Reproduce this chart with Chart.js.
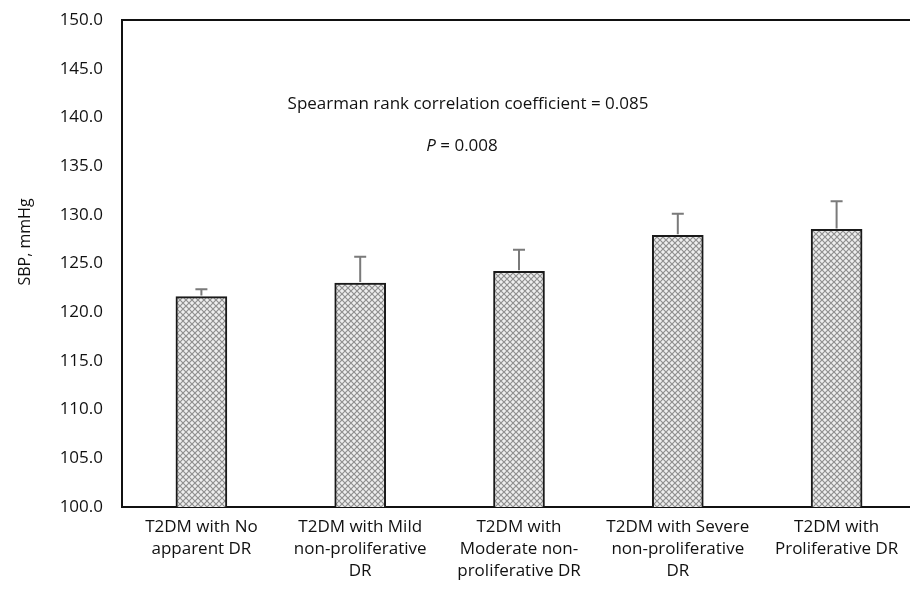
<!DOCTYPE html>
<html>
<head>
<meta charset="utf-8">
<script src="https://cdn.jsdelivr.net/npm/chart.js@4/dist/chart.umd.min.js"></script>
<style>
  html, body { margin: 0; padding: 0; background: #fff; overflow: hidden; }
  #wrap { width: 916px; height: 591px; }
</style>
</head>
<body>
<div id="wrap"><canvas id="sbp_chart" width="916" height="591"></canvas></div>
<script>
const groups = [
    ["T2DM with No", "apparent DR"],
    ["T2DM with Mild", "non-proliferative", "DR"],
    ["T2DM with", "Moderate non-", "proliferative DR"],
    ["T2DM with Severe", "non-proliferative", "DR"],
    ["T2DM with", "Proliferative DR"]
];
const sbpMean = [121.6, 123.0, 124.2, 127.9, 128.5];
const sbpErr = [0.75, 2.7, 2.2, 2.2, 2.9];
const yMin = 100, yMax = 150, yStep = 5;
const rhoText = "Spearman rank correlation coefficient = 0.085";
const pValue = " = 0.008";

const FONT = "'Open Sans', sans-serif";
const FS = 17;

// dotted diamond fill like the excel pattern
function makePattern() {
    const c = document.createElement('canvas');
    c.width = 6; c.height = 6;
    const g = c.getContext('2d');
    g.fillStyle = '#eeeeee';
    g.fillRect(0, 0, 6, 6);
    g.strokeStyle = '#8f8f8f';
    g.lineWidth = 1.2;
    g.beginPath();
    g.moveTo(0, 0); g.lineTo(6, 6);
    g.moveTo(6, 0); g.lineTo(0, 6);
    g.stroke();
    return g.createPattern(c, 'repeat');
}

const errorBars = {
    id: 'errorBars',
    afterDatasetsDraw(chart) {
        const ctx = chart.ctx;
        const meta = chart.getDatasetMeta(0);
        const y = chart.scales.y;
        ctx.save();
        ctx.strokeStyle = '#7a7a7a';
        ctx.lineWidth = 2;
        meta.data.forEach((bar, i) => {
            const top = y.getPixelForValue(sbpMean[i] + sbpErr[i]);
            const base = y.getPixelForValue(sbpMean[i]) - 1;
            ctx.beginPath();
            ctx.moveTo(bar.x, base);
            ctx.lineTo(bar.x, top);
            ctx.moveTo(bar.x - 6, top);
            ctx.lineTo(bar.x + 6, top);
            ctx.stroke();
        });
        ctx.restore();
    }
};

const extras = {
    id: 'extras',
    afterDraw(chart) {
        const ctx = chart.ctx;
        const a = chart.chartArea;
        ctx.save();
        // top border of plot area
        ctx.strokeStyle = '#111';
        ctx.lineWidth = 2;
        ctx.beginPath();
        ctx.moveTo(a.left - 1, a.top);
        ctx.lineTo(a.right, a.top);
        ctx.stroke();

        ctx.fillStyle = '#111';
        ctx.textBaseline = 'middle';
        ctx.font = FS + 'px ' + FONT;
        ctx.textAlign = 'center';
        ctx.fillText(rhoText, 468, 104);

        // P line, italic P
        ctx.textAlign = 'left';
        ctx.font = 'italic ' + FS + 'px ' + FONT;
        const wP = ctx.measureText('P').width;
        ctx.font = FS + 'px ' + FONT;
        const wRest = ctx.measureText(pValue).width;
        const x0 = 462 - (wP + wRest) / 2;
        ctx.font = 'italic ' + FS + 'px ' + FONT;
        ctx.fillText('P', x0, 146);
        ctx.font = FS + 'px ' + FONT;
        ctx.fillText(pValue, x0 + wP, 146);

        // y axis title
        ctx.translate(25, 242);
        ctx.rotate(-Math.PI / 2);
        ctx.textAlign = 'center';
        ctx.font = '16px ' + FONT;
        ctx.fillText('SBP, mmHg', 0, 0);
        ctx.restore();
    }
};

new Chart(document.getElementById('sbp_chart'), {
    type: 'bar',
    data: {
        labels: groups,
        datasets: [{
            data: sbpMean,
            backgroundColor: makePattern(),
            borderColor: '#1a1a1a',
            borderWidth: { top: 2, left: 2, right: 2, bottom: 0 },
            borderSkipped: false,
            barThickness: 51
        }]
    },
    options: {
        responsive: false,
        animation: false,
        layout: { padding: { top: 20, right: 0, left: 0, bottom: 0 } },
        plugins: {
            legend: { display: false },
            tooltip: { enabled: false }
        },
        scales: {
            x: {
                grid: { display: false, drawTicks: false },
                border: { color: '#111', width: 2 },
                ticks: {
                    color: '#111',
                    font: { family: FONT, size: FS, lineHeight: 1.3 },
                    padding: 9,
                    maxRotation: 0,
                    autoSkip: false
                },
                afterFit(scale) { scale.height = 84; }
            },
            y: {
                min: yMin,
                max: yMax,
                grid: { display: false, drawTicks: false },
                border: { color: '#111', width: 2 },
                ticks: {
                    stepSize: yStep,
                    color: '#111',
                    font: { family: FONT, size: FS },
                    padding: 19,
                    callback: v => v.toFixed(1)
                },
                afterFit(scale) {
                    scale.width = 122;
                    scale.paddingTop = 0;
                    scale.paddingBottom = 0;
                }
            }
        }
    },
    plugins: [errorBars, extras]
});
</script>
</body>
</html>
